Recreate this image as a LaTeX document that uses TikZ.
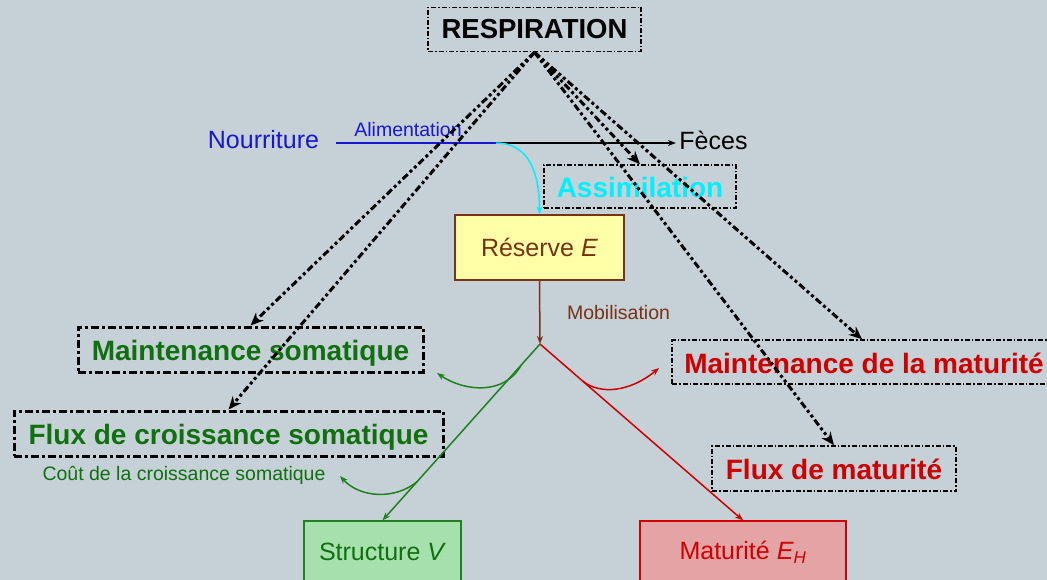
\documentclass[tikz,border=0pt]{standalone}
\usepackage{fontspec}
\setmainfont{Liberation Sans}
\usetikzlibrary{arrows.meta,calc}
\definecolor{bgc}{RGB}{198,208,215}
\definecolor{dgreen}{RGB}{16,112,16}
\definecolor{lgreen}{RGB}{30,130,30}
\definecolor{dred}{RGB}{208,0,0}
\definecolor{nblue}{RGB}{24,24,208}
\definecolor{brightcyan}{RGB}{0,240,255}
\definecolor{brownc}{RGB}{120,50,20}
\definecolor{yfill}{RGB}{255,255,168}
\definecolor{gfill}{RGB}{166,224,172}
\definecolor{rfill}{RGB}{228,164,166}
\newcommand{\fsz}[1]{\fontsize{#1}{#1}\selectfont}
\tikzset{
  boxthin/.style={draw=black, line width=1.5pt, dash pattern=on 5pt off 2pt on 1.5pt off 2pt, inner sep=0pt},
  boxthick/.style={draw=black, line width=3pt, dash pattern=on 8pt off 3pt on 3pt off 3pt, inner sep=0pt},
  bigbold/.style={font=\bfseries\fsz{28}, text height=22.5pt, text depth=0pt},
  plain/.style={font=\fsz{25}},
  small/.style={font=\fsz{19.5}},
  resparrow/.style={line width=3pt, dash pattern=on 7pt off 3pt on 3pt off 3pt on 3pt off 3pt,
    -{Stealth[length=13pt,width=11pt]}},
  thinarrow/.style={line width=1.5pt, -{Stealth[length=8pt,width=6pt]}},
  statebox/.style={line width=1.2pt, inner sep=0pt, minimum height=62pt, font=\fsz{25}}
}
\begin{document}
\begin{tikzpicture}[x=1pt,y=-1pt]
\useasboundingbox (0,0) rectangle (1047,580);
\clip (0,0) rectangle (1047,580);
\fill[bgc] (0,0) rectangle (1047,580);

% boxes of the fluxes
\node[boxthin, minimum width=213pt, minimum height=44pt, font=\bfseries\fsz{27.5}] (resp) at (534.5,29.5) {RESPIRATION};
\node[boxthin, minimum width=192pt, minimum height=43pt, bigbold, text=brightcyan] (assim) at (640,186.5) {Assimilation};
\node[boxthick, minimum width=345pt, minimum height=45pt, bigbold, text=dgreen] (ms) at (250.5,349.5) {Maintenance somatique};
\node[boxthick, minimum width=429pt, minimum height=45pt, bigbold, text=dgreen] (fcs) at (228.5,433.5) {Flux de croissance somatique};
\node[boxthin, minimum width=384pt, minimum height=44pt, bigbold, text=dred] (mm) at (864,362) {Maintenance de la maturité};
\node[boxthin, minimum width=244pt, minimum height=45pt, bigbold, text=dred] (fm) at (834,468.5) {Flux de maturité};

% state variables
\node[draw=brownc, fill=yfill, line width=1.2pt, inner sep=0pt, minimum width=169pt, minimum height=65pt, font=\fsz{25}, text=brownc] (res) at (539.5,247.5) {Réserve \textit{E}};
\node[statebox, draw=lgreen, fill=gfill, minimum width=157pt, text=dgreen] (struct) at (382.5,552) {Structure \textit{V}};
\node[statebox, draw=dred, fill=rfill, minimum width=206pt, text=dred] (mat) at (743,552) {Maturité \textit{E}$_{\textit{\fsz{17}H}}$};

% labels
\node[plain, text=nblue] (nour) at (263.5,140) {Nourriture};
\node[plain] (fec) at (713.5,140) {Fèces};
\node[small, text=nblue] (alim) at (408,130) {Alimentation};
\node[small, text=brownc] (mob) at (618.5,313) {Mobilisation};
\node[small, text=dgreen] (cout) at (184,475) {Coût de la croissance somatique};

% feeding and assimilation
\coordinate (feed) at (336,143);
\coordinate (jn) at (496,143);
\draw[nblue, line width=1.5pt] (feed) -- (jn);
\draw[black, thinarrow] (jn) -- (fec.west |- jn);
\draw[brightcyan, thinarrow] (jn) to[out=0, in=90, looseness=1.1] (res.north);

% mobilisation and split
\coordinate (split) at (540,344);
\draw[brownc, thinarrow] (res.south) -- (split);
\draw[lgreen, thinarrow] (split) -- (struct.north);
\draw[dred, thinarrow] (split) -- (mat.north);

% costs branching off the fluxes
\coordinate (g1) at ($(split)!0.12!(struct.north)$);
\coordinate (g2) at ($(split)!0.78!(struct.north)$);
\coordinate (r1) at ($(split)!0.21!(mat.north)$);
\coordinate (msin) at (437,373);
\coordinate (coutin) at (340,476);
\coordinate (mmin) at (659,368);
\draw[lgreen, thinarrow] (g1) .. controls (505,395) and (465,392) .. (msin);
\draw[lgreen, thinarrow] (g2) .. controls (395,500) and (360,498) .. (coutin);
\draw[dred, thinarrow] (r1) .. controls (600,395) and (630,392) .. (mmin);

% respiration fluxes
\draw[resparrow] (resp.south) -- (ms.north);
\draw[resparrow] (resp.south) -- (fcs.north);
\draw[resparrow] (resp.south) -- (assim.north);
\draw[resparrow] (resp.south) -- ([xshift=-2pt]mm.north);
\draw[resparrow] (resp.south) -- (fm.north);
\end{tikzpicture}
\end{document}
